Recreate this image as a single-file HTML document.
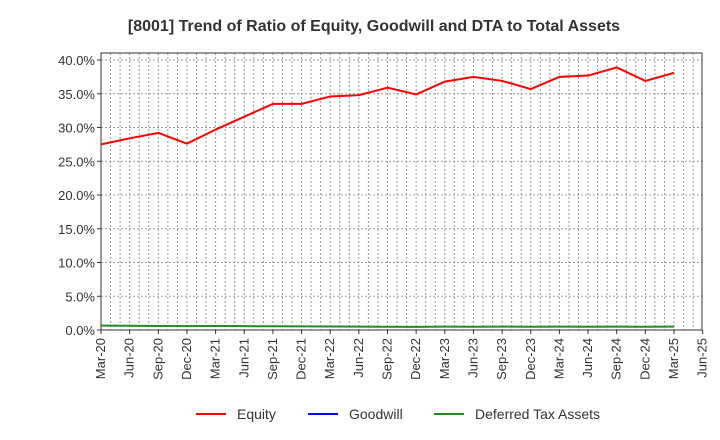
<!DOCTYPE html>
<html><head><meta charset="utf-8"><style>
body{margin:0;background:#fff;font-family:"Liberation Sans",sans-serif}
</style></head><body>
<svg width="720" height="440" id="c" style="display:block">
<text x="374" y="31" text-anchor="middle" font-size="16" font-weight="bold" fill="#333">[8001]  Trend of Ratio of Equity, Goodwill and DTA to Total Assets</text>
<g id="grid"></g><g id="axes"></g><g id="series"></g>
<g font-size="14" fill="#333">
<line x1="196" y1="414" x2="226" y2="414" stroke="#f00" stroke-width="2"/><text x="237" y="419">Equity</text>
<line x1="308" y1="414" x2="338" y2="414" stroke="#00f" stroke-width="2"/><text x="349" y="419">Goodwill</text>
<line x1="434" y1="414" x2="464" y2="414" stroke="#228b22" stroke-width="2"/><text x="475" y="419">Deferred Tax Assets</text>
</g>
</svg>
<script>
const xLabels=["Mar-20","Jun-20","Sep-20","Dec-20","Mar-21","Jun-21","Sep-21","Dec-21","Mar-22","Jun-22","Sep-22","Dec-22","Mar-23","Jun-23","Sep-23","Dec-23","Mar-24","Jun-24","Sep-24","Dec-24","Mar-25","Jun-25"];
const yTicks=[0,5,10,15,20,25,30,35,40];
const equity=[27.5,28.4,29.2,27.6,29.7,31.6,33.5,33.5,34.6,34.8,35.9,34.9,36.8,37.5,36.9,35.7,37.5,37.7,38.9,36.9,38.1];
const goodwill=[];
const dta=[0.65,0.63,0.6,0.58,0.6,0.57,0.55,0.53,0.52,0.5,0.48,0.47,0.5,0.49,0.5,0.49,0.5,0.49,0.5,0.48,0.5];
const L=101,R=702,T=53,B=330;
const X=i=>L+i*28.65, Y=v=>330-v*6.75;
const NS="http://www.w3.org/2000/svg";
function mk(p,t,a){const e=document.createElementNS(NS,t);for(const k in a)e.setAttribute(k,a[k]);p.appendChild(e);return e;}
const g=document.getElementById('grid'),ax=document.getElementById('axes'),s=document.getElementById('series');
for(let m=1;m<63;m++){const x=L+m*28.65/3;if(x>=R)break;
const l=mk(g,'line',{x1:x,x2:x,y1:T,y2:B,stroke:'#999','stroke-dasharray':'2,2','stroke-width':1});

}
yTicks.forEach(v=>{const y=Y(v);
const l=mk(g,'line',{x1:L,x2:R,y1:y,y2:y,stroke:'#999','stroke-dasharray':'2,2','stroke-width':1});


mk(ax,'line',{x1:L-4,x2:L,y1:y,y2:y,stroke:'#333'});
const t=mk(ax,'text',{x:L-6,y:y+5,'text-anchor':'end','font-size':13,fill:'#333'});t.textContent=v.toFixed(1)+'%';

});
xLabels.forEach((lb,i)=>{const x=X(i);
mk(ax,'line',{x1:x,x2:x,y1:B,y2:B+4,stroke:'#333'});
const t=mk(ax,'text',{x:x+4,y:B+8,'text-anchor':'end','font-size':13,fill:'#333',transform:`rotate(-90 ${x+4} ${B+8})`});t.textContent=lb;

});
const fr=mk(ax,'rect',{x:L,y:T,width:R-L,height:B-T,fill:'none',stroke:'#333'});


function line(d,c,n){if(!d.length)return;const p=mk(s,'polyline',{points:d.map((v,i)=>X(i)+','+Y(v)).join(' '),fill:'none',stroke:c,'stroke-width':2});

}
line(dta,'#228b22','dta-line');line(goodwill,'#00f','goodwill-line');line(equity,'#f00','equity-line');
</script>
</body></html>
